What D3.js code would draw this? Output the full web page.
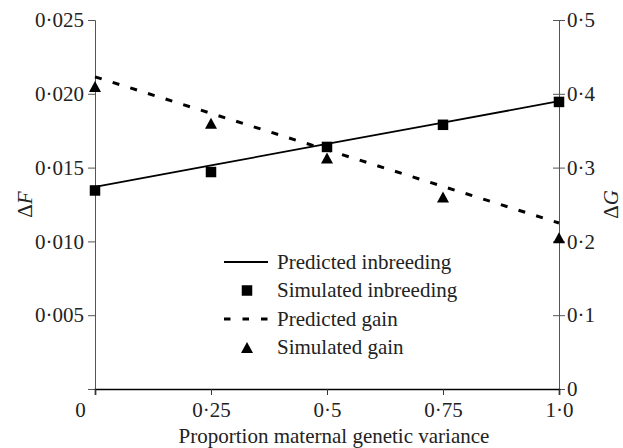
<!DOCTYPE html>
<html>
<head>
<meta charset="utf-8">
<script src="https://cdn.jsdelivr.net/npm/d3@7"></script>
<style>
  html, body { margin: 0; padding: 0; background: #fff; }
  svg { display: block; }
  text { font-family: "Liberation Serif", "Times New Roman", serif; fill: #222; }
</style>
</head>
<body>
<svg id="chart" width="623" height="448"></svg>
<script>
// ---- data ----
const proportions = [0, 0.25, 0.5, 0.75, 1.0];
const predictedInbreeding = [0.0137, 0.01515, 0.0166, 0.01805, 0.0195];
const simulatedInbreeding = [0.01345, 0.0147, 0.0164, 0.0179, 0.01945];
const predictedGain = [0.423, 0.3735, 0.324, 0.2745, 0.225];
const simulatedGain = [0.41, 0.36, 0.313, 0.26, 0.205];

const xTicks = [0, 0.25, 0.5, 0.75, 1.0];
const xTickLabels = ["0", "0·25", "0·5", "0·75", "1·0"];
const leftTicks = [0, 0.005, 0.01, 0.015, 0.02, 0.025];
const leftTickLabels = ["", "0·005", "0·010", "0·015", "0·020", "0·025"];
const rightTicks = [0, 0.1, 0.2, 0.3, 0.4, 0.5];
const rightTickLabels = ["0", "0·1", "0·2", "0·3", "0·4", "0·5"];
const legendLabels = ["Predicted inbreeding", "Simulated inbreeding", "Predicted gain", "Simulated gain"];
const xTitle = "Proportion maternal genetic variance";

// ---- layout ----
const W = 623, H = 448;
const m = { left: 95, right: 64, top: 20, bottom: 59 };
const fontSize = 21;
const svg = d3.select("#chart");

const x = d3.scaleLinear().domain([0, 1]).range([m.left, W - m.right]);
const yL = d3.scaleLinear().domain([0, 0.025]).range([H - m.bottom, m.top]);
const yR = d3.scaleLinear().domain([0, 0.5]).range([H - m.bottom, m.top]);

// left axis
const gL = svg.append("g").attr("transform", `translate(${m.left},0)`)
  .call(d3.axisLeft(yL).tickValues(leftTicks).tickSize(7).tickPadding(4)
    .tickFormat((d, i) => leftTickLabels[i]));
gL.select(".domain").attr("stroke", "#555").attr("stroke-width", 1);
gL.selectAll(".tick line").attr("stroke", "#555").attr("stroke-width", 1);
gL.selectAll("text").attr("font-size", fontSize).attr("font-family", "Liberation Serif").attr("fill", "#222");

// right axis
const gR = svg.append("g").attr("transform", `translate(${W - m.right},0)`)
  .call(d3.axisRight(yR).tickValues(rightTicks).tickSize(6).tickPadding(2)
    .tickFormat((d, i) => rightTickLabels[i]));
gR.select(".domain").attr("stroke", "#555").attr("stroke-width", 1);
gR.selectAll(".tick line").attr("x1", -6).attr("stroke", "#555").attr("stroke-width", 1);
gR.selectAll("text").attr("font-size", fontSize).attr("font-family", "Liberation Serif").attr("fill", "#222");

// bottom axis
const gB = svg.append("g").attr("transform", `translate(0,${H - m.bottom})`)
  .call(d3.axisBottom(x).tickValues(xTicks).tickSize(6).tickPadding(7)
    .tickFormat((d, i) => xTickLabels[i]));
gB.select(".domain").attr("stroke", "#000").attr("stroke-width", 1.6);
gB.selectAll(".tick line").attr("stroke", "#333").attr("stroke-width", 1);
gB.selectAll("text").attr("font-size", fontSize).attr("font-family", "Liberation Serif").attr("fill", "#222");
gB.selectAll(".tick").filter(d => d === 0).select("text").attr("dx", -15);

// axis titles
svg.append("text").attr("x", (x(0) + x(1)) / 2 + 7).attr("y", 443)
  .attr("text-anchor", "middle").attr("font-size", fontSize).text(xTitle);

const lt = svg.append("text").attr("transform", `translate(32,${yL(0.0125)}) rotate(-90)`)
  .attr("text-anchor", "middle").attr("font-size", fontSize);
lt.append("tspan").text("Δ");
lt.append("tspan").attr("font-style", "italic").text("F");

const rt = svg.append("text").attr("transform", `translate(618,${yL(0.0125)}) rotate(-90)`)
  .attr("text-anchor", "middle").attr("font-size", fontSize);
rt.append("tspan").text("Δ");
rt.append("tspan").attr("font-style", "italic").text("G");

// ---- series ----
const lineL = d3.line().x((d, i) => x(proportions[i])).y(d => yL(d));
const lineR = d3.line().x((d, i) => x(proportions[i])).y(d => yR(d));

svg.append("path").datum(predictedInbreeding).attr("d", lineL)
  .attr("fill", "none").attr("stroke", "#000").attr("stroke-width", 1.8);

svg.append("path").datum(predictedGain).attr("d", lineR)
  .attr("fill", "none").attr("stroke", "#000").attr("stroke-width", 3)
  .attr("stroke-dasharray", "7,11.5");

const sq = 10.5;
svg.append("g").selectAll("rect").data(simulatedInbreeding).join("rect")
  .attr("x", (d, i) => x(proportions[i]) - sq / 2)
  .attr("y", d => yL(d) - sq / 2)
  .attr("width", sq).attr("height", sq).attr("fill", "#000");

const triW = 12, triH = 11;
const triPath = (cx, cy) => `M${cx},${cy - triH / 2}L${cx + triW / 2},${cy + triH / 2}L${cx - triW / 2},${cy + triH / 2}Z`;
svg.append("g").selectAll("path").data(simulatedGain).join("path")
  .attr("d", (d, i) => triPath(x(proportions[i]), yR(d)))
  .attr("fill", "#000");

// ---- legend ----
const lgX0 = 224, lgX1 = 268, lgTextX = 277, lgY0 = 262, lgDy = 28.5;
const lg = svg.append("g");
legendLabels.forEach((lab, i) => {
  const cy = lgY0 + i * lgDy;
  if (i === 0) {
    lg.append("line").attr("x1", lgX0).attr("x2", lgX1).attr("y1", cy).attr("y2", cy)
      .attr("stroke", "#000").attr("stroke-width", 1.8);
  } else if (i === 1) {
    lg.append("rect").attr("x", (lgX0 + lgX1) / 2 - sq / 2 + 1).attr("y", cy - sq / 2)
      .attr("width", sq).attr("height", sq).attr("fill", "#000");
  } else if (i === 2) {
    lg.append("line").attr("x1", lgX0).attr("x2", lgX1).attr("y1", cy).attr("y2", cy)
      .attr("stroke", "#000").attr("stroke-width", 3).attr("stroke-dasharray", "6.5,12");
  } else {
    lg.append("path").attr("d", triPath((lgX0 + lgX1) / 2 + 1, cy)).attr("fill", "#000");
  }
  lg.append("text").attr("x", lgTextX).attr("y", cy).attr("dy", "0.32em")
    .attr("font-size", fontSize).text(lab);
});
</script>
</body>
</html>
